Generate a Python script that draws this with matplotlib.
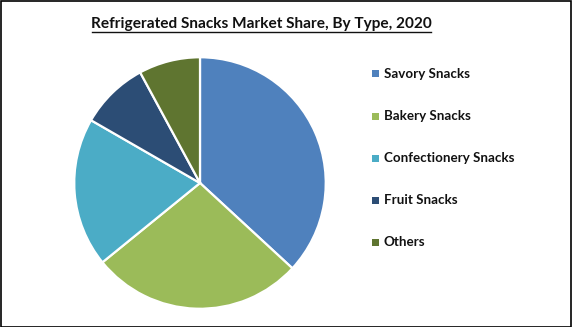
import matplotlib
matplotlib.use("Agg")
import matplotlib.pyplot as plt
from matplotlib.patches import Rectangle

categories = ["Savory Snacks", "Bakery Snacks", "Confectionery Snacks", "Fruit Snacks", "Others"]
shares = [36.9, 27.3, 19.2, 8.8, 7.9]
colors = ["#4F81BD", "#9BBB59", "#4BACC6", "#2C4D75", "#5F7530"]
title = "Refrigerated Snacks Market Share, By Type, 2020"

W, H = 572, 327
fig = plt.figure(figsize=(W / 100, H / 100), dpi=100)
fig.patch.set_facecolor("white")

cx, cy, r = 200, 183, 127
ax = fig.add_axes([(cx - r) / W, (H - cy - r) / H, 2 * r / W, 2 * r / H])
ax.pie(shares, colors=colors, startangle=90, counterclock=False, radius=1,
       wedgeprops=dict(edgecolor="white", linewidth=1.6))
ax.set_xlim(-1.01, 1.01)
ax.set_ylim(-1.01, 1.01)
ax.set_aspect("equal")
ax.axis("off")

fig.text(261.5 / W, 1 - 24 / H, title, ha="center", va="center", fontsize=11.1,
         fontweight="bold", family=["Lato", "DejaVu Sans"], color="#111111")
# underline
fig.add_artist(plt.Line2D([92 / W, 431 / W], [1 - 32 / H, 1 - 32 / H], color="#111111",
                          linewidth=1.0, transform=fig.transFigure))

y0, dy = 74, 42
for i, (lab, col) in enumerate(zip(categories, colors)):
    y = y0 + i * dy
    fig.add_artist(Rectangle((372 / W, 1 - (y + 3.5) / H), 7 / W, 7 / H, facecolor=col,
                             edgecolor="none", transform=fig.transFigure))
    fig.text(384 / W, 1 - y / H, lab, ha="left", va="center", fontsize=9.6,
             fontweight="bold", family=["Lato", "DejaVu Sans"], color="#111111")

# outer frame
fig.add_artist(Rectangle((0.5 / W, 0.5 / H), (W - 1.5) / W, (H - 1.5) / H, fill=False,
                         edgecolor="black", linewidth=1.2, transform=fig.transFigure))

fig.savefig("out.png", dpi=100, facecolor="white")
